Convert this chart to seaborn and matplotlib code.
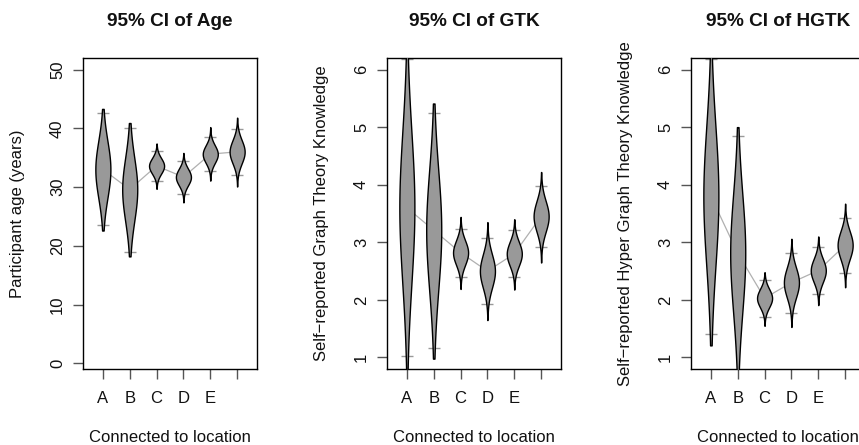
import numpy as np
import pandas as pd
import matplotlib
matplotlib.use("Agg")
import matplotlib.pyplot as plt
import seaborn as sns

# ---------------- data ----------------
categories = ["A", "B", "C", "D", "E", ""]

age_mean = [33.0, 29.6, 33.6, 31.7, 35.6, 36.0]
age_ci_low = [23.5, 19.0, 31.0, 28.9, 32.7, 32.1]
age_ci_high = [42.6, 40.1, 36.2, 34.5, 38.6, 39.9]
age_ext_low = [22.6, 18.2, 29.7, 27.4, 31.1, 30.1]
age_ext_high = [43.3, 40.9, 37.4, 35.8, 40.2, 41.8]

gtk_mean = [3.60, 3.21, 2.82, 2.50, 2.80, 3.45]
gtk_ci_low = [1.02, 1.17, 2.40, 1.93, 2.39, 2.92]
gtk_ci_high = [6.18, 5.25, 3.23, 3.07, 3.21, 3.97]
gtk_ext_low = [0.60, 0.98, 2.19, 1.65, 2.18, 2.65]
gtk_ext_high = [6.60, 5.41, 3.44, 3.35, 3.40, 4.22]

hgtk_mean = [3.80, 2.81, 2.03, 2.30, 2.51, 2.95]
hgtk_ci_low = [1.41, 0.78, 1.71, 1.78, 2.11, 2.47]
hgtk_ci_high = [6.19, 4.84, 2.34, 2.81, 2.91, 3.43]
hgtk_ext_low = [1.21, 0.62, 1.55, 1.53, 1.91, 2.22]
hgtk_ext_high = [6.39, 5.00, 2.48, 3.06, 3.10, 3.67]

titles = ["95% CI of Age", "95% CI of GTK", "95% CI of HGTK"]
ylabels = ["Participant age (years)",
           "Self\u2212reported Graph Theory Knowledge",
           "Self\u2212reported Hyper Graph Theory Knowledge"]
xlabel = "Connected to location"
age_yticks = [0, 10, 20, 30, 40, 50]
score_yticks = [1, 2, 3, 4, 5, 6]

# ---------------- style ----------------
sns.set_theme(style="white")
plt.rcParams["font.family"] = ["Liberation Sans", "DejaVu Sans"]

W, H = 859, 445
fig = plt.figure(figsize=(W / 100, H / 100), dpi=100)

panel_left_px = [83, 387, 691]
box_w_px = 174
box_top_px, box_bot_px = 58, 369

panels = [
    (age_mean, age_ci_low, age_ci_high, age_ext_low, age_ext_high, age_yticks, (1, 50)),
    (gtk_mean, gtk_ci_low, gtk_ci_high, gtk_ext_low, gtk_ext_high, score_yticks, (1, 6)),
    (hgtk_mean, hgtk_ci_low, hgtk_ci_high, hgtk_ext_low, hgtk_ext_high, score_yticks, (1, 6)),
]

positions = np.arange(1, len(categories) + 1)
half_w = 0.28

for k, (mean, lo, hi, elo, ehi, yticks, yr) in enumerate(panels):
    ax = fig.add_axes([panel_left_px[k] / W, (H - box_bot_px) / H,
                       box_w_px / W, (box_bot_px - box_top_px) / H])

    # connecting line through means
    df_mean = pd.DataFrame({"pos": positions, "mean": mean})
    sns.lineplot(data=df_mean, x="pos", y="mean", ax=ax, color="#b0b0b0",
                 lw=0.9, zorder=1, legend=False)

    # CI tick marks
    df_ci = pd.DataFrame({"pos": np.concatenate([positions, positions]),
                          "val": list(lo) + list(hi)})
    sns.scatterplot(data=df_ci, x="pos", y="val", ax=ax, marker="_", s=75,
                    color="#999999", linewidth=1.0, zorder=2, legend=False)

    # violin shapes
    for i, p in enumerate(positions):
        y = np.linspace(elo[i], ehi[i], 300)
        s = (hi[i] - lo[i]) / (2 * 1.96)
        hw = half_w * np.exp(-0.5 * ((y - mean[i]) / s) ** 2)
        ax.fill_betweenx(y, p - hw, p + hw, facecolor="#999999",
                         edgecolor="black", lw=1.0, zorder=3)

    ext = 0.04 * (yr[1] - yr[0])
    ax.set_ylim(yr[0] - ext, yr[1] + ext)
    ax.set_xlim(0.5 - 0.24, 6.5 + 0.24)
    ax.set_xticks(positions)
    ax.set_xticklabels(categories)
    ax.set_yticks(yticks)
    ax.set_yticklabels([str(t) for t in yticks], rotation=90, va="center")

    ax.tick_params(axis="both", which="major", direction="out", length=7,
                   width=1.0, color="#555555", labelsize=12, labelcolor="#111111",
                   bottom=True, left=True)
    ax.tick_params(axis="x", pad=9)
    ax.tick_params(axis="y", pad=6)

    for sp in ax.spines.values():
        sp.set_visible(True)
        sp.set_color("black")
        sp.set_linewidth(1.0)

    ax.set_title(titles[k], fontsize=13.7, fontweight="bold", pad=23, color="#111111")
    ax.set_xlabel(xlabel, fontsize=12, color="#111111")
    ax.xaxis.set_label_coords(0.5, -0.197)
    ax.set_ylabel(ylabels[k], fontsize=12, color="#111111")
    ax.yaxis.set_label_coords(-0.335, 0.5)

fig.savefig("out.png", dpi=100)
